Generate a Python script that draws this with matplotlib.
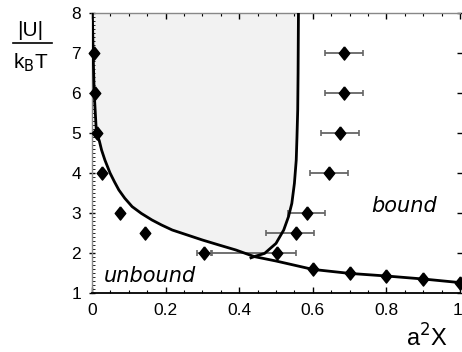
import matplotlib
matplotlib.use("Agg")
import matplotlib.pyplot as plt
from matplotlib.ticker import MultipleLocator
import matplotlib.transforms as mtransforms

# lower boundary curve
lower_x = [0.001, 0.003, 0.006, 0.012, 0.020, 0.026, 0.035, 0.049, 0.061, 0.073, 0.089, 0.109,
           0.134, 0.163, 0.189, 0.218, 0.259, 0.300, 0.345, 0.391, 0.441, 0.5, 0.6, 0.7, 0.8, 0.9, 1.0]
lower_y = [8.0, 7.0, 6.0, 5.0, 4.8, 4.575, 4.325, 4.0, 3.78, 3.575, 3.37, 3.16,
           2.99, 2.825, 2.7, 2.575, 2.45, 2.325, 2.2, 2.075, 1.91, 1.80, 1.59, 1.49, 1.425, 1.35, 1.26]
# right boundary curve of the shaded region
right_x = [0.561, 0.560, 0.559, 0.557, 0.555, 0.550, 0.543, 0.534, 0.521, 0.500, 0.469, 0.441]
right_y = [8.0, 6.5, 5.575, 4.9, 4.325, 3.74, 3.24, 2.91, 2.575, 2.24, 1.99, 1.91]

# diamonds along the lower curve
a_x = [0.005, 0.008, 0.013, 0.027, 0.077, 0.143, 0.304, 0.6, 0.7, 0.8, 0.9, 1.0]
a_y = [7, 6, 5, 4, 3, 2.5, 2, 1.59, 1.49, 1.425, 1.35, 1.26]
a_err_x = [0.304]
a_err_y = [2]
a_err = [0.02]

# diamonds with horizontal error bars
b_x = [0.503, 0.554, 0.583, 0.644, 0.674, 0.685, 0.685]
b_y = [2, 2.5, 3, 4, 5, 6, 7]
b_err_lo = [0.177, 0.08, 0.05, 0.051, 0.051, 0.051, 0.051]
b_err_hi = [0.05, 0.049, 0.051, 0.051, 0.051, 0.051, 0.051]

xticks = [0, 0.2, 0.4, 0.6, 0.8, 1.0]
xticklabels = ['0', '0.2', '0.4', '0.6', '0.8', '1']
yticks = [1, 2, 3, 4, 5, 6, 7, 8]

plt.rcParams['font.family'] = ['Liberation Sans', 'DejaVu Sans']

fig = plt.figure(figsize=(4.62, 3.52), dpi=100)
ax = fig.add_axes([92/462, 59/352, 368/462, 280/352])
ax.set_xlim(0, 1)
ax.set_ylim(1, 8)

# shaded region
k = lower_x.index(0.441)
poly_x = lower_x[:k + 1] + right_x[::-1]
poly_y = lower_y[:k + 1] + right_y[::-1]
ax.fill(poly_x, poly_y, color='#f2f2f2', zorder=1, lw=0)

ax.plot(lower_x, lower_y, color='black', lw=2.0, zorder=3, solid_joinstyle='round')
ax.plot(right_x + [0.432], right_y + [1.88], color='black', lw=2.0, zorder=3, solid_joinstyle='round')

diamond = [(0, 1), (0.8, 0), (0, -1), (-0.8, 0), (0, 1)]

ax.errorbar(a_err_x, a_err_y, xerr=a_err, fmt='none', ecolor='#666666', elinewidth=1.3,
            capsize=2, capthick=1.2, zorder=2)
ax.errorbar(b_x, b_y, xerr=[b_err_lo, b_err_hi], fmt='none', ecolor='#666666', elinewidth=1.3,
            capsize=2, capthick=1.2, zorder=2)
ax.plot(a_x, a_y, ls='none', marker=diamond, ms=9.5, color='black', zorder=4, clip_on=False)
ax.plot(b_x, b_y, ls='none', marker=diamond, ms=9.5, color='black', zorder=4, clip_on=False)

ax.text(0.033, 1.28, 'unbound', fontsize=15, style='italic', family=['DejaVu Sans'], zorder=5)
ax.text(0.759, 3.03, 'bound', fontsize=15, style='italic', family=['DejaVu Sans'], zorder=5)

# spines
ax.spines['bottom'].set_color('black')
ax.spines['bottom'].set_linewidth(1.3)
ax.spines['left'].set_color('#888888')
ax.spines['left'].set_linewidth(1.0)
ax.spines['top'].set_color('#888888')
ax.spines['top'].set_linewidth(1.0)
ax.spines['right'].set_visible(False)

ax.set_xticks(xticks)
ax.set_xticklabels(xticklabels)
ax.xaxis.set_minor_locator(MultipleLocator(0.05))
ax.set_yticks(yticks)
ax.yaxis.set_minor_locator(MultipleLocator(0.1))
ax.tick_params(axis='x', which='major', direction='in', length=4, width=1, top=True, labelsize=12.5, pad=7)
ax.tick_params(axis='x', which='minor', direction='in', length=2.5, width=0.8, top=True)
ax.tick_params(axis='y', which='major', direction='inout', length=4, width=1, right=True, labelsize=12.5, pad=6)
ax.tick_params(axis='y', which='minor', direction='in', length=2, width=0.6, right=False)
for t in ax.yaxis.get_major_ticks():
    t.tick2line.set_color('#bbbbbb')
for t in ax.xaxis.get_major_ticks() + ax.xaxis.get_minor_ticks():
    t.tick2line.set_color('#555555')

# nudge the last x tick label so it stays inside the picture
fig.canvas.draw()
last = ax.get_xticklabels()[-1]
last.set_transform(last.get_transform() + mtransforms.ScaledTranslation(-3/100, 0, fig.dpi_scale_trans))

# axis labels
fig.text(448/462, 1 - 347/352, r'a$^2$X', fontsize=17, ha='right', va='baseline')
fig.text(30/462, 1 - 36/352, '|U|', fontsize=15, ha='center', va='baseline')
fig.add_artist(plt.Line2D([13/462, 52/462], [1 - 43/352, 1 - 43/352], color='black', lw=1.2))
fig.text(31/462, 1 - 68/352, r'k$_\mathrm{B}$T', fontsize=15, ha='center', va='baseline')

fig.savefig('out.png', dpi=100)
